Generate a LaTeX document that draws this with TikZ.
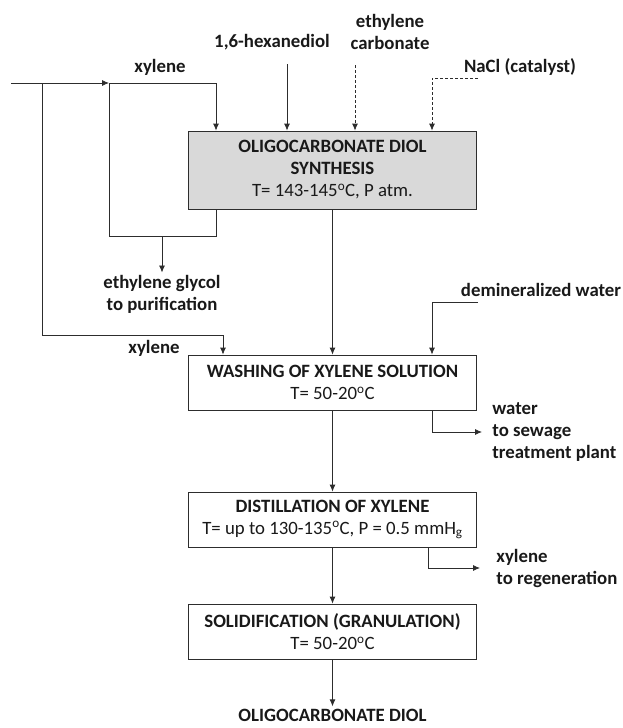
\documentclass[tikz,border=0pt]{standalone}
\usepackage{fontspec}
\setmainfont{Carlito}
\usetikzlibrary{positioning, arrows, arrows.meta}
\definecolor{boxgray}{RGB}{217,217,217}
\definecolor{linegray}{RGB}{45,45,45}

\begin{document}
\begin{tikzpicture}[->,>={Latex[length=7pt,width=6pt]},x=1pt,y=-1pt,line width=0.8pt,color=linegray,
    every node/.style={font=\fontsize{18.8}{22}\selectfont\bfseries,text=black!90},
    box/.style={draw=linegray,rectangle,minimum width=288pt,minimum height=55pt,align=center,inner sep=0pt},
    lbl/.style={align=center,inner sep=2pt},
    side/.style={align=left,inner sep=2pt,anchor=west},
    feedline/.style={dash pattern=on 3pt off 2pt}]

        \useasboundingbox (0,0) rectangle (622,728);

        % process steps
        \node[box,fill=boxgray,minimum height=78pt] (synth) at (332.5,170) {OLIGOCARBONATE DIOL\\SYNTHESIS\\\mdseries T= 143-145\textsuperscript{o}C, P atm.};
        \node[box] (wash) at (332.5,382.5) {WASHING OF XYLENE SOLUTION\\\mdseries T= 50-20\textsuperscript{o}C};
        \node[box] (distil) at (332.5,519.5) {DISTILLATION OF XYLENE\\\mdseries T= up to 130-135\textsuperscript{o}C, P = 0.5 mmH\textsubscript{g}};
        \node[box] (solid) at (332.5,631.5) {SOLIDIFICATION (GRANULATION)\\\mdseries T= 50-20\textsuperscript{o}C};

        % streams
        \node[lbl] (xyltop) at (160,67) {xylene};
        \node[lbl] (hexa) at (272,42) {1,6-hexanediol};
        \node[lbl] (ec) at (390,32) {ethylene\\carbonate};
        \node[lbl] (nacl) at (520,67) {NaCl (catalyst)};
        \node[lbl] (eg) at (162,294) {ethylene glycol\\to purification};
        \node[lbl] (xylwash) at (154,348) {xylene};
        \node[lbl] (demi) at (541,290) {demineralized water};
        \node[side] (water) at (490,432) {water\\to sewage\\treatment plant};
        \node[side] (xylreg) at (494,568) {xylene\\to regeneration};
        \node[lbl] (prod) at (332.5,715) {OLIGOCARBONATE DIOL};

        \coordinate (feed) at (11,83);
        \coordinate (split) at (42,83);
        \coordinate (join) at (109,83);
        \coordinate (loop) at (216,236);
        \coordinate (xylin) at (223,335);
        \coordinate (hexin) at (287,64);
        \coordinate (ecin) at (355,65);
        \coordinate (naclin) at (478,78);
        \coordinate (nacldown) at (432,78);
        \coordinate (demin) at (478,302);
        \coordinate (demdown) at (432,302);
        \coordinate (wdrop) at (432,433);
        \coordinate (xdrop) at (428,570);

        \draw (feed) -- (join);
        \draw (join) -| (loop |- synth.north);
        \draw[-] (loop |- synth.south) -- (loop) -| (join);
        \draw (eg.north |- loop) -- (eg.north);
        \draw (split) |- (xylin) -- (xylin |- wash.north);
        \draw (hexin) -- (hexin |- synth.north);
        \draw[feedline] (ecin) -- (ecin |- synth.north);
        \draw[feedline] (naclin) -- (nacldown) -- (nacldown |- synth.north);
        \draw (synth.south) -- (wash.north);
        \draw (demin) -- (demdown) -- (demdown |- wash.north);
        \draw (wdrop |- wash.south) |- ([xshift=-8pt]water.west);
        \draw (wash.south) -- (distil.north);
        \draw (xdrop |- distil.south) |- ([xshift=-14pt]xylreg.west);
        \draw (distil.south) -- (solid.north);
        \draw (solid.south) -- (prod.north);
      \end{tikzpicture}
\end{document}
